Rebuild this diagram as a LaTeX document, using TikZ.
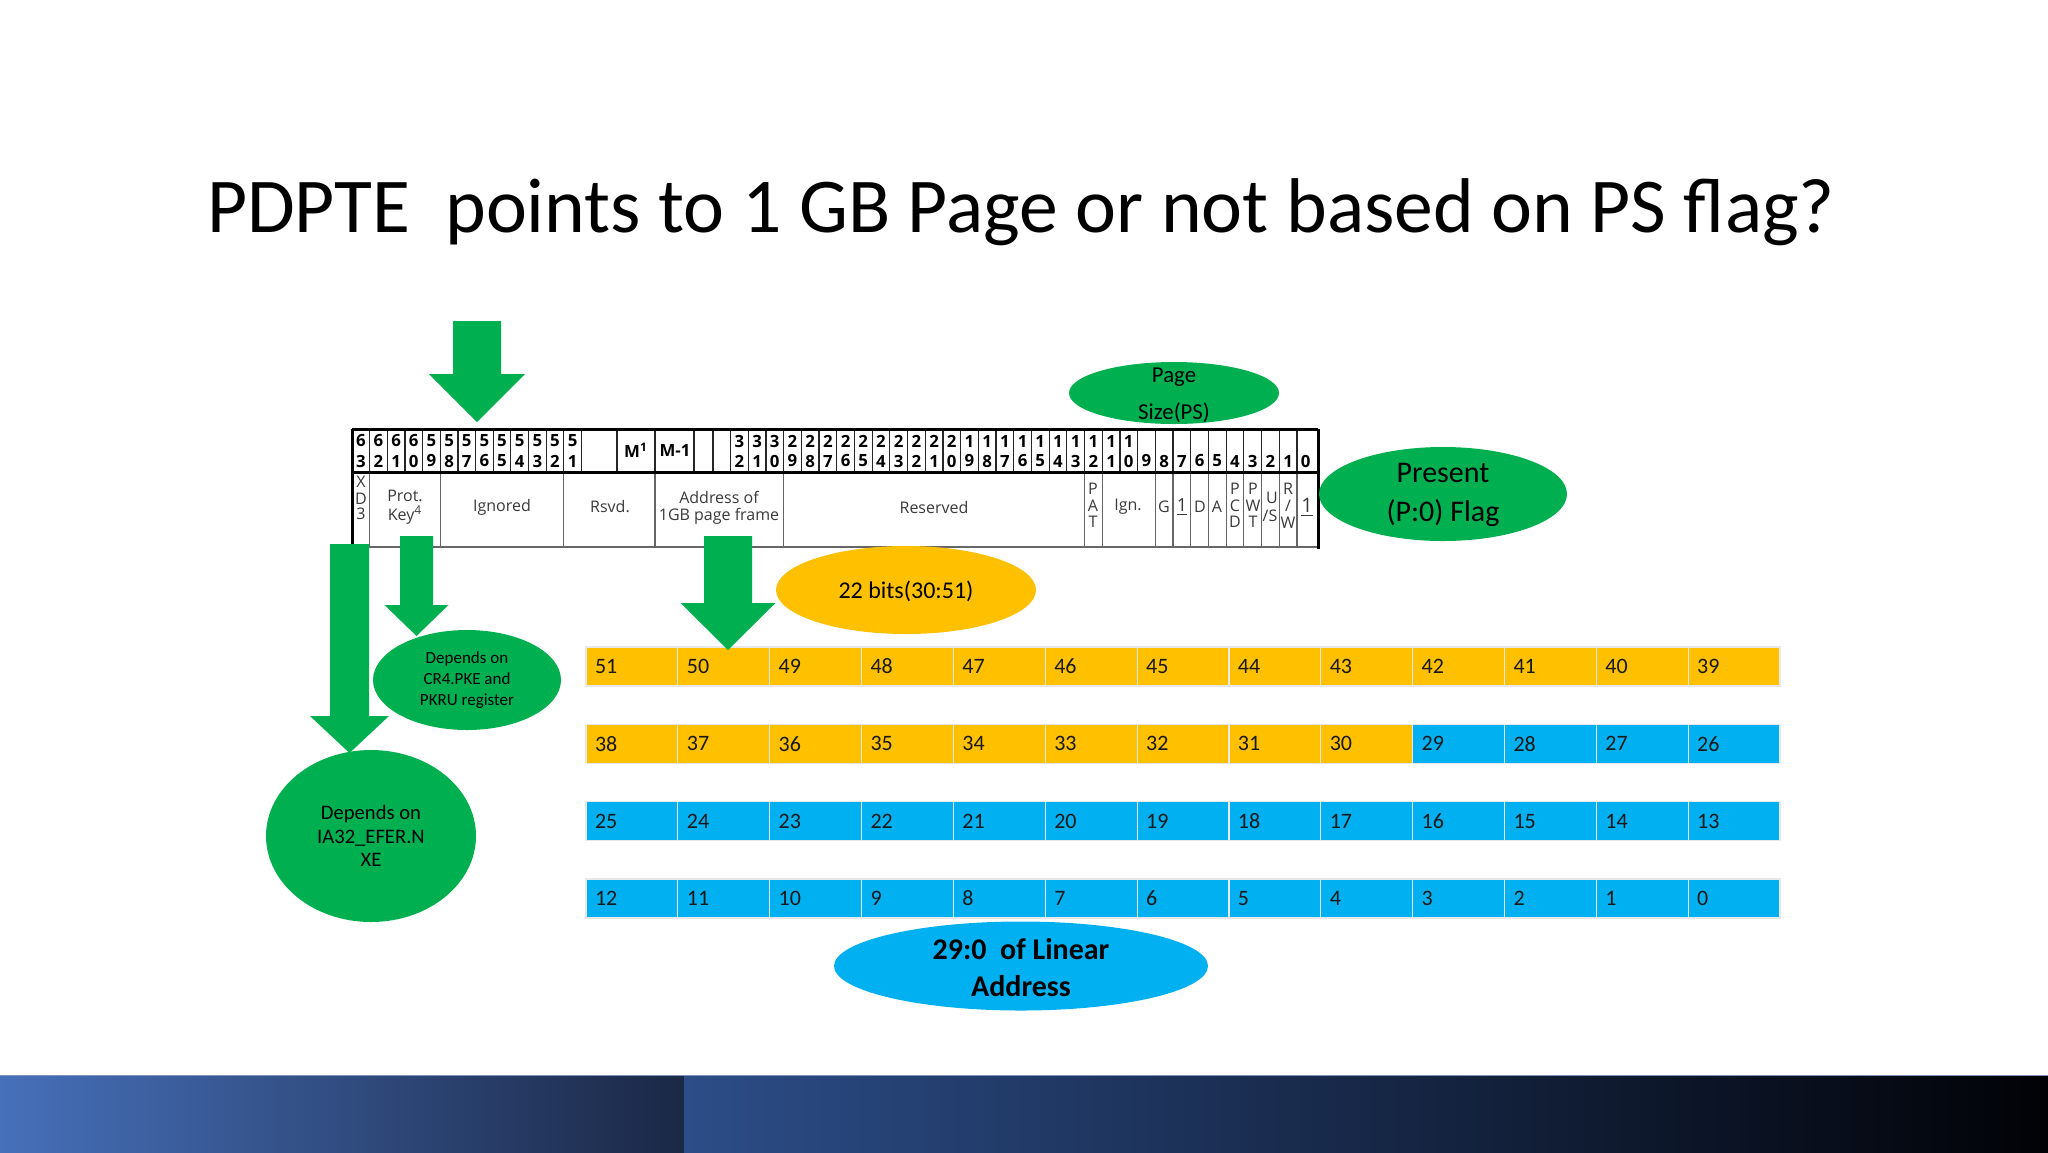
\documentclass[tikz,border=0pt]{standalone}
\usepackage{fontspec}
\setmainfont{Carlito}
\newfontfamily\tabfont{Open Sans}
\usetikzlibrary{shapes.geometric}
\definecolor{pgreen}{HTML}{00B050}
\definecolor{porange}{HTML}{FFC000}
\definecolor{pblue}{HTML}{00B0F0}
\definecolor{tabtext}{HTML}{3A3A3A}
\definecolor{bandAl}{HTML}{4670BA}
\definecolor{bandAr}{HTML}{1B2846}
\definecolor{bandBl}{HTML}{2C4D88}
\definecolor{bandBr}{HTML}{010206}
\newcommand{\greenarrow}[7]{% name, cx, ytop, yhead, ytip, shaft half width, head half width
  \coordinate (#1) at (#2,#5);
  \fill[pgreen] ({#2-#6},#3) -- ({#2+#6},#3) -- ({#2+#6},#4) -- ({#2+#7},#4) -- (#1) -- ({#2-#7},#4) -- ({#2-#6},#4) -- cycle;
}
\begin{document}
\begin{tikzpicture}[x=0.5pt,y=-0.5pt,
  every node/.style={inner sep=0pt, outer sep=0pt},
  hdig/.style={font=\tabfont\bfseries\fontsize{8.4}{9}\selectfont, text=black},
  btxt/.style={font=\tabfont\fontsize{8}{9}\selectfont, text=tabtext},
  vline/.style={line width=0.6pt, draw=black!85},
  bline/.style={line width=0.6pt, draw=black!60},
  border/.style={line width=1.5pt, draw=black},
  bubble/.style={ellipse, draw=none, inner sep=0pt},
  cellbox/.style={rectangle, draw=white!82!gray, line width=0.6pt, minimum width=45.925pt, minimum height=19.5pt, anchor=north west},
  numtxt/.style={font=\fontsize{11}{13}\selectfont, anchor=west, text=black!90},
]
\useasboundingbox (0,0) rectangle (2048,1152);
\fill[white] (0,0) rectangle (2048,1152);

% title
\node[anchor=base west, font=\fontsize{38.8}{46}\selectfont] (title) at (207,232) {PDPTE\ \ points to 1 GB Page or not based on PS flag?};

% bottom band
\shade[left color=bandAl, right color=bandAr] (0,1075) rectangle (684,1152);
\shade[left color=bandBl, right color=bandBr] (684,1075) rectangle (2048,1152);
\draw[line width=0.6pt, white!40!bandBl] (0,1075.5) -- (2048,1075.5);

% ===== register table =====
% header vertical lines
\foreach \k in {1,...,13} \draw[vline] ({352+\k*17.65},429) -- ({352+\k*17.65},472);
\foreach \xx in {617,655,694,713} \draw[vline] (\xx,429) -- (\xx,472);
\foreach \j in {0,...,32} \draw[vline] ({730.5+\j*17.7},429) -- ({730.5+\j*17.7},472);
% body vertical lines
\foreach \xx in {369.65,440.6,563.8,655,783.6,1084.5,1102.2,1155.3,1173,1190.7,1208.4,1226.1,1243.8,1261.5,1279.2,1296.9}
  \draw[bline] (\xx,472) -- (\xx,547);
% borders
\draw[line width=0.8pt, black!60] (352,547) -- (1318,547);
\draw[border] (352,429) -- (1318,429);
\draw[border] (352,472) -- (1318,472);
\draw[border] (352,429) -- (352,547);
\draw[border] (1318,429) -- (1318,549);

% header digits
\foreach \k in {0,...,12}{
  \pgfmathtruncatemacro\bit{63-\k}
  \pgfmathtruncatemacro\tens{\bit/10}
  \pgfmathtruncatemacro\ones{mod(\bit,10)}
  \pgfmathsetmacro\cx{352+(\k+0.5)*17.65}
  \node[hdig] (ht\bit) at (\cx,441) {\tens};
  \node[hdig] (ho\bit) at (\cx,461) {\ones};
}
\foreach \j in {0,...,32}{
  \pgfmathtruncatemacro\bit{32-\j}
  \pgfmathtruncatemacro\tens{\bit/10}
  \pgfmathtruncatemacro\ones{mod(\bit,10)}
  \pgfmathsetmacro\cx{730.5+(\j+0.5)*17.7}
  \ifnum\bit>9 \node[hdig] (ht\bit) at (\cx,441) {\tens};\fi
  \node[hdig] (ho\bit) at (\cx,461) {\ones};
}
\node[hdig] (mone) at (636,450) {M\textsuperscript{1}};
\node[hdig] (mminus) at (675,450) {M-1};

% body labels
\node[btxt] (xdX) at (361,482) {X};
\node[btxt] (xdD) at (361,499) {D};
\node[btxt] (xd3) at (361,514) {3};
\node[btxt] (prot) at (405,496) {Prot.};
\node[btxt] (key) at (405,515) {Key\textsuperscript{4}};
\node[btxt] (ign) at (502,507) {Ignored};
\node[btxt] (rsvd) at (610,507) {Rsvd.};
\node[btxt] (addr1) at (719,497) {Address of};
\node[btxt] (addr2) at (719,516) {1GB page frame};
\node[btxt] (resv) at (934,507) {Reserved};
\node[btxt] (patP) at (1093,489) {P};
\node[btxt] (patA) at (1093,506) {A};
\node[btxt] (patT) at (1093,522) {T};
\node[btxt] (ignb) at (1128,507) {Ign.};
\node[btxt] (gbit) at (1164,507) {G};
\node[btxt, font=\tabfont\fontsize{9}{10}\selectfont] (one7) at (1182,507) {\underline{1}};
\node[btxt] (dbit) at (1200,507) {D};
\node[btxt] (abit) at (1217,507) {A};
\node[btxt] (pcdP) at (1235,489) {P};
\node[btxt] (pcdC) at (1235,506) {C};
\node[btxt] (pcdD) at (1235,522) {D};
\node[btxt] (pwtP) at (1253,489) {P};
\node[btxt] (pwtW) at (1253,506) {W};
\node[btxt] (pwtT) at (1253,522) {T};
\node[btxt] (usU) at (1272,498) {U};
\node[btxt] (usS) at (1270,516) {/S};
\node[btxt] (rwR) at (1288,489) {R};
\node[btxt] (rwS) at (1288,506) {/};
\node[btxt] (rwW) at (1288,523) {W};
\node[btxt, font=\tabfont\fontsize{10}{11}\selectfont] (one0) at (1307,507) {\underline{1}};

% ===== linear address grid =====
\foreach \r in {0,...,3}{
  \foreach \c in {0,...,12}{
    \pgfmathtruncatemacro\n{51-13*\r-\c}
    \pgfmathsetmacro\xl{586+91.85*\c}
    \pgfmathsetmacro\yt{647+77.3*\r}
    \ifnum\n>29 \def\cc{porange}\else\def\cc{pblue}\fi
    \node[cellbox, fill=\cc] (c\n) at (\xl,\yt) {};
    \node[numtxt] (n\n) at ([xshift=4.5pt]c\n.west) {\n};
  }
}

% ===== ellipses =====
\node[bubble, fill=pgreen, minimum width=105pt, minimum height=31pt] (psell) at (1174,393) {};
\node[align=center, font=\fontsize{11.4}{18.5}\selectfont] (pstext) at (1174,395) {Page\\Size(PS)};

\node[bubble, fill=pgreen, minimum width=124pt, minimum height=47pt] (presell) at (1443,494) {};
\node[align=center, font=\fontsize{15}{19.5}\selectfont] (prestext) at (1443,495) {Present\\(P:0) Flag};

\node[bubble, fill=porange, minimum width=130pt, minimum height=44pt] (bitsell) at (906,590) {};
\node[font=\fontsize{12}{14}\selectfont] (bitstext) at (906,591) {22 bits(30:51)};

\node[bubble, fill=pgreen, minimum width=94pt, minimum height=50pt] (pkeell) at (467,680) {};
\node[align=center, font=\fontsize{8.5}{10.5}\selectfont] (pketext) at (467,680) {Depends on\\CR4.PKE and\\PKRU register};

\node[bubble, fill=pgreen, minimum width=105pt, minimum height=86pt] (nxeell) at (371,836) {};
\node[align=center, font=\fontsize{10.3}{11.8}\selectfont] (nxetext) at (371,836) {Depends on\\IA32\_EFER.N\\XE};

\node[bubble, fill=pblue, minimum width=187pt, minimum height=44.5pt] (linell) at (1021,966) {};
\node[align=center, font=\bfseries\fontsize{15}{18.5}\selectfont] (lintext) at (1021,968) {29:0\ \ of Linear\\Address};

% ===== green block arrows =====
\greenarrow{tipTop}{477}{321}{374}{422}{24}{48}
\greenarrow{tipNXE}{349.5}{544}{716}{753}{19.5}{39.5}
\greenarrow{tipPKE}{416.5}{536}{605}{636}{16.5}{32}
\greenarrow{tipAddr}{728}{536}{603}{650}{24}{47.5}
\end{tikzpicture}
\end{document}
